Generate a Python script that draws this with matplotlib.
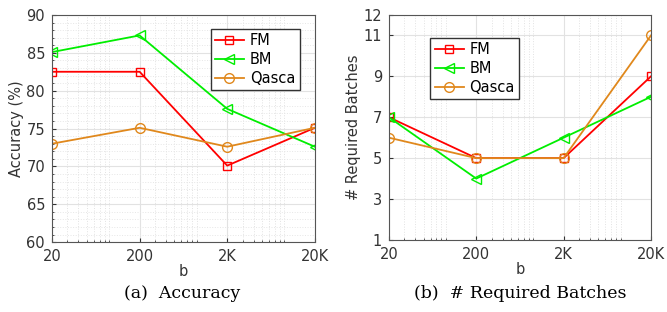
import matplotlib
matplotlib.use("Agg")
import matplotlib.pyplot as plt
from matplotlib.ticker import LogLocator, NullFormatter, MultipleLocator

b = [20, 200, 2000, 20000]
b_labels = ["20", "200", "2K", "20K"]

acc_fm = [82.5, 82.5, 70.1, 75.1]
acc_bm = [85.1, 87.3, 77.6, 72.6]
acc_qasca = [73.0, 75.1, 72.6, 75.1]

bat_fm = [7, 5, 5, 9]
bat_bm = [7, 4, 6, 8]
bat_qasca = [6, 5, 5, 11]

RED = "#ff0000"
GREEN = "#00ee00"
ORANGE = "#e0881c"
FS = 10.5

fig = plt.figure(figsize=(6.67, 3.12), dpi=100)
ax1 = fig.add_axes([0.078, 0.224, 0.394, 0.728])
ax2 = fig.add_axes([0.583, 0.231, 0.393, 0.721])

def style(ax):
    ax.set_xscale("log")
    ax.set_xlim(20, 20000)
    ax.set_xticks(b)
    ax.set_xticklabels(b_labels)
    ax.xaxis.set_minor_locator(LogLocator(base=10, subs=range(2, 10)))
    ax.xaxis.set_minor_formatter(NullFormatter())
    ax.set_axisbelow(True)
    ax.grid(True, which="major", color="#e2e2e2", linewidth=0.8)
    ax.grid(True, which="minor", axis="x", color="#e2e2e2", linestyle=":", linewidth=0.7)
    ax.tick_params(which="both", direction="in", labelsize=FS, colors="#333333", length=3, pad=5)
    ax.tick_params(which="minor", length=1.5)
    for s in ax.spines.values():
        s.set_color("#555555")
        s.set_linewidth(0.8)
    ax.set_xlabel("b", fontsize=FS, color="#333333", labelpad=0)

def lines(ax, fm, bm, qa):
    ax.plot(b, fm, color=RED, marker="s", mfc="none", ms=6, lw=1.3, label="FM")
    ax.plot(b, bm, color=GREEN, marker="<", mfc="none", ms=7, lw=1.3, label="BM")
    ax.plot(b, qa, color=ORANGE, marker="o", mfc="none", ms=7, lw=1.3, label="Qasca")

lines(ax1, acc_fm, acc_bm, acc_qasca)
style(ax1)
ax1.set_ylim(60, 90)
ax1.set_yticks([60, 65, 70, 75, 80, 85, 90])
ax1.yaxis.set_minor_locator(MultipleLocator(1))
ax1.grid(True, which="minor", axis="y", color="#e6e6e6", linestyle=":", linewidth=0.7)
ax1.set_ylabel("Accuracy (%)", fontsize=FS, color="#333333", labelpad=2)
ax1.legend(loc="upper right", bbox_to_anchor=(0.97, 0.97), fontsize=FS, fancybox=False,
           edgecolor="#333333", framealpha=1, handlelength=2, borderpad=0.3,
           labelspacing=0.25, handletextpad=0.4)

lines(ax2, bat_fm, bat_bm, bat_qasca)
style(ax2)
ax2.set_ylim(1, 12)
ax2.set_yticks([1, 3, 5, 7, 9, 11, 12])
ax2.set_ylabel("# Required Batches", fontsize=FS, color="#333333", labelpad=2)
ax2.legend(loc="upper left", bbox_to_anchor=(0.13, 0.93), fontsize=FS, fancybox=False,
           edgecolor="#333333", framealpha=1, handlelength=2, borderpad=0.3,
           labelspacing=0.25, handletextpad=0.4)

fig.text(0.273, 0.045, "(a)  Accuracy", ha="center", fontsize=12.5, family="DejaVu Serif")
fig.text(0.78, 0.045, "(b)  # Required Batches", ha="center", fontsize=12.5, family="DejaVu Serif")

fig.savefig("out.png", dpi=100)
